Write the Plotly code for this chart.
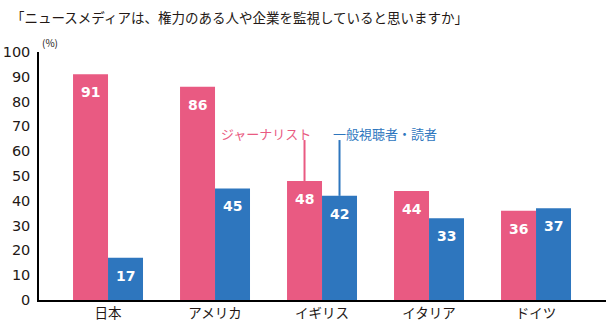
import plotly.graph_objects as go

countries = ["日本", "アメリカ", "イギリス", "イタリア", "ドイツ"]
journalists = [91, 86, 48, 44, 36]
audience = [17, 45, 42, 33, 37]
y_ticks = list(range(0, 101, 10))

PINK = "#E95A82"
BLUE = "#2E76BE"
INK = "#231815"
JP = "Noto Sans CJK JP, sans-serif"

x = list(range(len(countries)))
half = 0.1635  # half of a single bar width in category units

fig = go.Figure()
fig.add_bar(x=x, y=journalists, name="ジャーナリスト", marker_color=PINK,
            marker_line_width=0, hoverinfo="skip")
fig.add_bar(x=x, y=audience, name="一般視聴者・読者", marker_color=BLUE,
            marker_line_width=0, hoverinfo="skip")

# value labels inside the top of each bar
for i in x:
    for vals, dx in ((journalists, -half), (audience, half)):
        fig.add_annotation(x=i + dx, y=vals[i], text=f"<b>{vals[i]}</b>",
                           showarrow=False, yshift=-18, yanchor="middle",
                           font=dict(family="Verdana, DejaVu Sans, sans-serif",
                                     size=14, color="white"))

# series callouts pointing at the UK bars
uk = countries.index("イギリス")
label_y = 64.5
fig.add_shape(type="line", x0=uk - half, x1=uk - half, y0=journalists[uk], y1=label_y,
              line=dict(color=PINK, width=2))
fig.add_shape(type="line", x0=uk + half, x1=uk + half, y0=audience[uk], y1=label_y,
              line=dict(color=BLUE, width=2))
fig.add_annotation(x=uk - half, y=67.0, text="ジャーナリスト", showarrow=False,
                   xanchor="right", xshift=8, yanchor="middle",
                   font=dict(family=JP, size=13, color=PINK))
fig.add_annotation(x=uk + half, y=67.0, text="一般視聴者・読者", showarrow=False,
                   xanchor="left", xshift=-9, yanchor="middle",
                   font=dict(family=JP, size=13, color=BLUE))

# title and unit
fig.add_annotation(xref="paper", yref="paper", x=0, y=1.0, yshift=35, xshift=-30,
                   xanchor="left", yanchor="middle", showarrow=False,
                   text="「ニュースメディアは、権力のある人や企業を監視していると思いますか」",
                   font=dict(family=JP, size=13.5, color=INK))
fig.add_annotation(xref="paper", yref="paper", x=0, y=1.0, yshift=10, xshift=1,
                   xanchor="left", yanchor="middle", showarrow=False, text="(%)",
                   font=dict(family=JP, size=10, color=INK))

fig.update_layout(
    width=613, height=325,
    margin=dict(l=39, r=7, t=52, b=25),
    paper_bgcolor="white", plot_bgcolor="white",
    barmode="group", bargap=0.346, bargroupgap=0,
    showlegend=False,
    xaxis=dict(range=[-0.645, 4.654], tickvals=x, ticktext=countries, automargin=False,
               showgrid=False, zeroline=False, showline=True, linecolor="black",
               linewidth=1.5, ticks="", tickfont=dict(family=JP, size=13.5, color=INK)),
    yaxis=dict(range=[0, 100], tickvals=y_ticks, showgrid=False, zeroline=False,
               automargin=False, showline=True, linecolor="black", linewidth=1.5,
               ticks="", ticklabelstandoff=4,
               tickfont=dict(family="Verdana, DejaVu Sans, sans-serif", size=14.5, color=INK)),
)

fig.write_html("out.html")
